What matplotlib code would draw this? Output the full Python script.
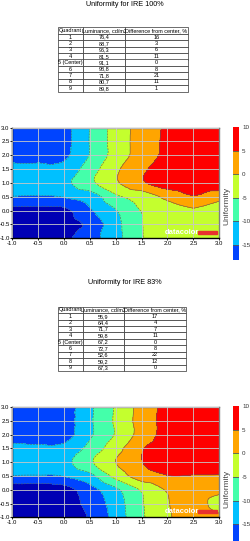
import numpy as np
import matplotlib.pyplot as plt
import matplotlib.tri as mtri
from matplotlib.patches import Rectangle

plt.rcParams['font.family'] = ['Liberation Sans', 'DejaVu Sans']
plt.rcParams['axes.unicode_minus'] = False

W, H = 250, 541

quadrants = ['1', '2', '3', '4', '5 (Center)', '6', '7', '8', '9']
header = ['Quadrant', 'Luminance, cd/m2', 'Difference from center, %']
lum_100 = [76.4, 88.7, 96.3, 81.5, 91.1, 98.8, 71.8, 80.7, 89.8]
diff_100 = [16, 3, 6, 11, 0, 8, 21, 11, 1]
lum_83 = [55.9, 64.4, 71.7, 59.8, 67.2, 72.7, 52.6, 59.2, 67.3]
diff_83 = [17, 4, 7, 11, 0, 8, 22, 12, 0]

# uniformity field, rows from y=-1 to y=3
grid_x = [-1.0, -0.5, 0.0, 0.5, 1.0, 1.5, 2.0, 2.5, 3.0]
grid_y = [-1.0, -0.5, 0.0, 0.5, 1.0, 1.5, 2.0, 2.5, 3.0]
z_100 = [
    [-21.5, -22.0, -21.0, -17.0, -11.8, -5.3, -3.0, -2.0, -2.5],
    [-22.0, -22.5, -22.0, -18.8, -11.5, -5.2, -2.5, -1.5, -2.0],
    [-21.5, -21.6, -21.2, -15.6, -10.3, -4.8, -2.0, -0.6, -1.8],
    [-15.2, -15.3, -14.8, -13.0, -6.0, -3.2, 1.2, 4.5, 1.5],
    [-12.3, -12.5, -11.2, -6.2, -0.8, 4.2, 7.8, 9.2, 9.5],
    [-14.0, -13.8, -13.5, -7.5, -1.0, 4.0, 7.5, 9.0, 9.5],
    [-16.2, -16.5, -16.0, -9.8, -3.0, 2.2, 6.2, 8.5, 9.0],
    [-17.5, -17.5, -16.5, -9.8, -2.9, 2.0, 6.0, 8.0, 8.5],
    [-17.5, -17.5, -16.5, -9.9, -3.0, 1.9, 5.8, 8.0, 8.5],
]
z_83 = [
    [-22.0, -22.5, -21.5, -19.6, -13.0, -5.8, -0.8, 2.8, 0.8],
    [-22.0, -22.5, -22.0, -18.5, -12.5, -5.5, -0.3, 1.5, -1.5],
    [-23.0, -23.2, -22.0, -17.0, -11.0, -4.5, 0.5, 2.5, 1.2],
    [-15.2, -15.3, -14.8, -11.5, -3.5, 2.75, 4.8, 4.7, 4.6],
    [-12.5, -12.8, -11.5, -5.8, 0.0, 4.8, 8.0, 9.5, 9.5],
    [-14.2, -14.4, -13.8, -8.5, -2.0, 4.5, 8.0, 9.2, 9.5],
    [-16.3, -16.5, -17.0, -10.8, -4.6, 1.8, 7.0, 8.8, 9.2],
    [-18.0, -18.0, -17.3, -10.8, -4.3, 2.0, 6.8, 8.5, 9.0],
    [-18.0, -18.0, -17.5, -11.0, -4.5, 1.8, 6.5, 8.5, 9.0],
]

levels = [-25, -20, -15, -10, -5, 0, 5, 10]
fill_colors = ['#0000b4', '#0044ff', '#00c0ff', '#44ffaa', '#c4ff2e', '#ffa500', '#ff0000']
cbar_ticks = [10, 5, 0, -5, -10, -15]


def box(l, t, r, b):
    return [l / W, 1 - b / H, (r - l) / W, (b - t) / H]


def draw_table(fig, rect, lum, diff):
    tax = fig.add_axes(rect)
    tax.axis('off')
    rows = [[q, f'{v:.1f}'.replace('.', ','), str(d)] for q, v, d in zip(quadrants, lum, diff)]
    tbl = tax.table(cellText=rows, colLabels=header, colWidths=[0.19, 0.326, 0.484],
                    cellLoc='center', bbox=[0, 0, 1, 1])
    tbl.auto_set_font_size(False)
    tbl.set_fontsize(4)
    for cell in tbl.get_celld().values():
        cell.set_linewidth(0.5)
        cell.set_edgecolor('#333333')
        cell.PAD = 0.02


def draw_map(fig, rect, cbar_rect, cbar_low, label_y, z):
    ax = fig.add_axes(rect)
    gx, gy = np.meshgrid(grid_x, grid_y)
    zv = np.asarray(z).ravel()
    tri = mtri.Triangulation(gx.ravel(), gy.ravel())
    interp = mtri.CubicTriInterpolator(tri, zv, kind='geom')
    fine_tri, fine_z = mtri.UniformTriRefiner(tri).refine_field(zv, interp, subdiv=4)
    fine_z = np.clip(fine_z, -24.9, 9.9)
    cs = ax.tricontourf(fine_tri, fine_z, levels=levels, colors=fill_colors)
    ax.tricontour(fine_tri, fine_z, levels=levels[1:-1], colors='#5a5a5a', linewidths=0.4)
    ax.set_xlim(-1, 3)
    ax.set_ylim(-1, 3)
    ticks = np.arange(-1, 3.01, 0.5)
    ax.set_xticks(ticks)
    ax.set_yticks(ticks)
    ax.set_xticklabels([f'{t:.1f}' for t in ticks])
    ax.set_yticklabels([f'{t:.1f}' for t in ticks])
    ax.tick_params(labelsize=4.3, length=1.2, width=0.6, pad=0.5)
    ax.set_axisbelow(False)
    ax.grid(True, color='#c8c8c8', lw=0.6)
    for s in ['left', 'bottom']:
        ax.spines[s].set_color('black')
        ax.spines[s].set_linewidth(1)
    for s in ['top', 'right']:
        ax.spines[s].set_color('#808080')
        ax.spines[s].set_linewidth(1)

    ax.text(0.822, 0.052, 'datacolor', transform=ax.transAxes, color='white',
            fontsize=5.5, fontweight='bold', ha='center', va='center')
    ax.add_patch(Rectangle((0.897, 0.037), 0.092, 0.026, transform=ax.transAxes,
                           color='#e8312f', zorder=5))

    cax = fig.add_axes(cbar_rect)
    cb = fig.colorbar(cs, cax=cax)
    cb.outline.set_visible(False)
    cax.set_ylim(cbar_low, 10)
    cb.set_ticks(cbar_ticks)
    cax.tick_params(length=0, labelsize=4.5, pad=2, colors='#333333')
    for lv in levels[1:-1]:
        cax.axhline(lv, color='#555555', lw=0.6)
    fig.text(226.7 / W, 1 - label_y / H, 'Uniformity', rotation=90, ha='center',
             va='center', fontsize=6, color='#444444')


fig = plt.figure(figsize=(W / 100, H / 100), dpi=100)

fig.text(0.5, 1 - 4.5 / H, 'Uniformity for IRE 100%', ha='center', va='center', fontsize=5.2)
draw_table(fig, box(58.3, 27.5, 188, 91.5), lum_100, diff_100)
draw_map(fig, box(12, 127.5, 219.3, 238.3), box(233.3, 127.3, 239.3, 260), -18.3, 206, z_100)

fig.text(0.5, 1 - 282 / H, 'Uniformity for IRE 83%', ha='center', va='center', fontsize=5.2)
draw_table(fig, box(58.3, 306.7, 186, 371), lum_83, diff_83)
draw_map(fig, box(12, 407, 219.3, 517.3), box(233.3, 406, 239.3, 541), -18.5, 489, z_83)

fig.savefig('out.png', dpi=100)
